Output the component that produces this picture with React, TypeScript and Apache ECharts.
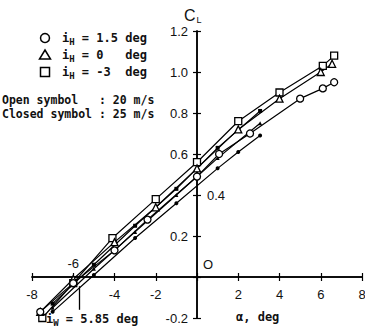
import { useEffect, useRef } from "react";
import * as echarts from "echarts";

// Lift coefficient vs angle of attack, tail incidence i_H, two tunnel speeds.
// Open symbols: 20 m/s
const openSquareAlpha = [-7.5, -6.0, -4.1, -2.0, 0.0, 2.0, 4.0, 6.1, 6.65];
const openSquareCL = [-0.2, -0.03, 0.19, 0.38, 0.56, 0.76, 0.9, 1.03, 1.08];

const openTriangleAlpha = [-7.6, -6.0, -4.0, -2.0, 0.0, 2.0, 4.0, 6.0, 6.55];
const openTriangleCL = [-0.17, -0.01, 0.17, 0.34, 0.53, 0.72, 0.87, 1.0, 1.04];

const openCircleAlpha = [-7.6, -6.0, -4.0, -2.4, 0.0, 1.07, 2.57, 5.0, 6.1, 6.65];
const openCircleCL = [-0.17, -0.03, 0.13, 0.28, 0.49, 0.6, 0.7, 0.87, 0.92, 0.95];

// Closed symbols: 25 m/s
const closedSquareAlpha = [-7.0, -5.0, -3.0, -1.0, 1.0, 3.06];
const closedSquareCL = [-0.13, 0.06, 0.25, 0.43, 0.63, 0.81];

const closedTriangleAlpha = [-7.0, -5.0, -3.0, -1.0, 1.0, 3.06];
const closedTriangleCL = [-0.15, 0.04, 0.22, 0.4, 0.58, 0.75];

const closedCircleAlpha = [-7.0, -5.0, -3.0, -1.0, 1.0, 2.0, 3.06];
const closedCircleCL = [-0.17, 0.01, 0.19, 0.36, 0.53, 0.61, 0.69];

// Wing incidence marker position on the alpha axis
const iwArrowAlpha = -5.7;
const iwArrowCL = [-0.16, -0.045];

// Tick labels, split by the side of the axis they sit on
const xTickBelow = [-8, -4, -2, 2, 4, 6, 8];
const xTickAbove = [-6];
const yTickLeft = [1.2, 1.0, 0.8, 0.6, 0.2, -0.2];
const yTickRight = [0.4];

const MONO = "'DejaVu Sans Mono', 'Liberation Mono', monospace";
const SANS = "'Liberation Sans', 'DejaVu Sans', Arial, sans-serif";

// plot box and the pixel distance from its edges to the crossing axes
const GRID = { left: 32, right: 3, top: 31, bottom: 12 };
const X_AXIS_FROM_BOTTOM = 41;
const Y_AXIS_FROM_LEFT = 165;
const PLOT_H = 330 - GRID.top - GRID.bottom;

const r1 = (v: number) => Math.round(v * 10) / 10;

function makeSeries(
  name: string,
  alpha: number[],
  cl: number[],
  symbol: string,
  size: number,
  filled: boolean,
  extra: Record<string, unknown> = {}
) {
  return {
    type: "line",
    name,
    data: alpha.map((a, i) => [a, cl[i]]),
    symbol,
    symbolSize: size,
    showSymbol: true,
    lineStyle: { color: "#000", width: 1.2 },
    itemStyle: {
      color: filled ? "#000" : "#fff",
      borderColor: "#000",
      borderWidth: filled ? 0 : 1.3,
    },
    z: filled ? 3 : 4,
    ...extra,
  };
}

export default function App() {
  const ref = useRef<HTMLDivElement>(null);

  useEffect(() => {
    if (!ref.current) return;
    const chart = echarts.init(ref.current, null, { renderer: "svg" });

    const axisLineStyle = { color: "#000", width: 1.5 };
    const tickStyle = { show: true, length: 4, lineStyle: { color: "#000", width: 1.2 } };
    const labelBase = { color: "#111", fontFamily: SANS, fontSize: 13, showMinLabel: true, showMaxLabel: true };
    const xCommon = { type: "value", min: -8, max: 8, interval: 2, splitLine: { show: false }, axisTick: tickStyle };
    const yCommon = { type: "value", min: -0.2, max: 1.2, interval: 0.2, splitLine: { show: false }, axisTick: tickStyle };
    const line = { show: true, onZero: false, lineStyle: axisLineStyle };

    const option = {
      animation: false,
      backgroundColor: "#fff",
      grid: { ...GRID, containLabel: false, outerBoundsMode: "none" },
      xAxis: [
        {
          ...xCommon,
          position: "bottom",
          offset: -X_AXIS_FROM_BOTTOM,
          axisLine: line,
          axisLabel: {
            ...labelBase,
            margin: 11,
            formatter: (v: number) => (xTickBelow.includes(r1(v)) ? String(r1(v)) : ""),
          },
        },
        {
          ...xCommon,
          position: "top",
          offset: -(PLOT_H - X_AXIS_FROM_BOTTOM),
          axisLine: line,
          axisLabel: {
            ...labelBase,
            margin: 7,
            formatter: (v: number) => (xTickAbove.includes(r1(v)) ? String(r1(v)) : ""),
          },
        },
      ],
      yAxis: [
        {
          ...yCommon,
          position: "left",
          offset: -Y_AXIS_FROM_LEFT,
          axisLine: line,
          axisLabel: {
            ...labelBase,
            margin: 9,
            formatter: (v: number) => (yTickLeft.includes(r1(v)) ? r1(v).toFixed(1) : ""),
          },
        },
        {
          ...yCommon,
          position: "right",
          offset: -(365 - GRID.left - GRID.right - Y_AXIS_FROM_LEFT),
          axisLine: line,
          axisLabel: {
            ...labelBase,
            margin: 10,
            formatter: (v: number) => (yTickRight.includes(r1(v)) ? r1(v).toFixed(1) : ""),
          },
        },
      ],
      series: [
        makeSeries("iH -3, 20 m/s", openSquareAlpha, openSquareCL, "rect", 7, false),
        makeSeries("iH 0, 20 m/s", openTriangleAlpha, openTriangleCL, "triangle", 7, false),
        makeSeries("iH 1.5, 20 m/s", openCircleAlpha, openCircleCL, "circle", 7, false, {
          markLine: {
            silent: true,
            symbol: ["none", "arrow"],
            symbolSize: [0, 7],
            label: { show: false },
            lineStyle: { color: "#000", width: 1.3, type: "solid" },
            data: [[{ coord: [iwArrowAlpha, iwArrowCL[0]] }, { coord: [iwArrowAlpha, iwArrowCL[1]] }]],
          },
        }),
        makeSeries("iH -3, 25 m/s", closedSquareAlpha, closedSquareCL, "rect", 4, true),
        makeSeries("iH 0, 25 m/s", closedTriangleAlpha, closedTriangleCL, "triangle", 4, true),
        makeSeries("iH 1.5, 25 m/s", closedCircleAlpha, closedCircleCL, "circle", 4, true),
      ],
      graphic: [
        // symbol key
        { type: "circle", shape: { cx: 45, cy: 38, r: 4.5 }, style: { fill: "#fff", stroke: "#000", lineWidth: 1.5 } },
        { type: "polygon", shape: { points: [[45, 50], [50.5, 59], [39.5, 59]] }, style: { fill: "#fff", stroke: "#000", lineWidth: 1.5 } },
        { type: "rect", shape: { x: 40.5, y: 67.5, width: 9, height: 9 }, style: { fill: "#fff", stroke: "#000", lineWidth: 1.5 } },
        ...[
          [38, "1.5 deg"],
          [55, "0   deg"],
          [72, "-3  deg"],
        ].map(([y, t]) => ({
          type: "text",
          x: 62,
          y: (y as number) - 8,
          style: {
            text: `{m|i}{s|H}{m| = ${t}}`,
            rich: {
              m: { fontFamily: MONO, fontWeight: "bold", fontSize: 12, lineHeight: 16, fill: "#111" },
              s: { fontFamily: MONO, fontWeight: "bold", fontSize: 9, lineHeight: 16, verticalAlign: "bottom", padding: [8, 0, 0, 0], fill: "#111" },
            },
          },
        })),
        {
          type: "text",
          x: 2,
          y: 93,
          style: {
            text: "Open symbol   : 20 m/s\nClosed symbol : 25 m/s",
            fontFamily: MONO,
            fontWeight: "bold",
            fontSize: 11.5,
            lineHeight: 14,
            fill: "#111",
          },
        },
        // axis titles
        {
          type: "text",
          x: 184,
          y: 6,
          style: {
            text: "{c|C}{s|L}",
            rich: {
              c: { fontFamily: SANS, fontSize: 16, lineHeight: 18, fill: "#111" },
              s: { fontFamily: SANS, fontSize: 9, lineHeight: 18, verticalAlign: "bottom", padding: [6, 0, 0, 1], fill: "#111" },
            },
          },
        },
        {
          type: "text",
          x: 236,
          y: 311,
          style: { text: "α, deg", fontFamily: MONO, fontWeight: "bold", fontSize: 12, fill: "#111" },
        },
        {
          type: "text",
          x: 203,
          y: 258,
          style: { text: "O", fontFamily: SANS, fontSize: 13, fill: "#111" },
        },
        {
          type: "text",
          x: 46,
          y: 311,
          style: {
            text: "{m|i}{s|W}{m| = 5.85 deg}",
            rich: {
              m: { fontFamily: MONO, fontWeight: "bold", fontSize: 12, lineHeight: 16, fill: "#111" },
              s: { fontFamily: MONO, fontWeight: "bold", fontSize: 9, lineHeight: 16, verticalAlign: "bottom", padding: [8, 0, 0, 0], fill: "#111" },
            },
          },
        },
      ],
    };

    chart.setOption(option as any);
    return () => chart.dispose();
  }, []);

  return (
    <div
      ref={ref}
      style={{ position: "fixed", left: 0, top: 0, width: 365, height: 330, background: "#fff" }}
    />
  );
}
